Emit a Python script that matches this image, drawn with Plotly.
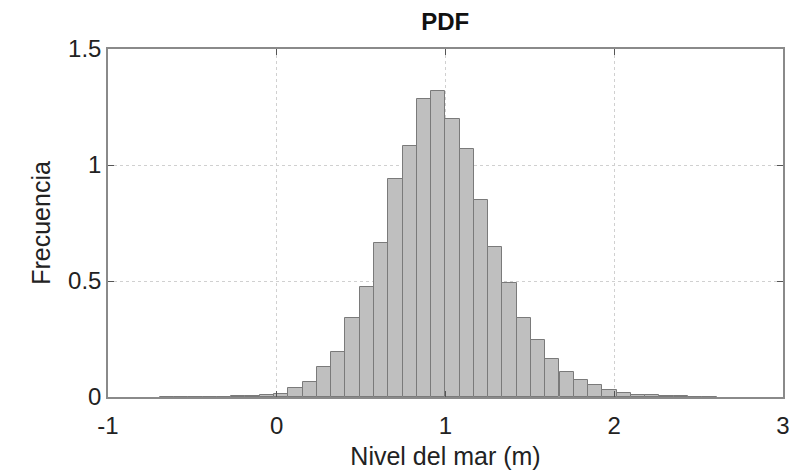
import plotly.graph_objects as go

# Histogram bin centres (m) and normalised frequency (PDF)
bin_centers = [
    -0.651, -0.566, -0.482, -0.397, -0.313, -0.228, -0.143, -0.059,
    0.026, 0.111, 0.195, 0.280, 0.365, 0.449, 0.534, 0.618, 0.703,
    0.788, 0.872, 0.957, 1.041, 1.126, 1.210, 1.295, 1.380, 1.464,
    1.549, 1.633, 1.718, 1.803, 1.887, 1.972, 2.056, 2.141, 2.225,
    2.310, 2.395, 2.479, 2.564,
]
pdf_values = [
    0.001, 0.001, 0.001, 0.002, 0.002, 0.003, 0.004, 0.007,
    0.014, 0.038, 0.065, 0.131, 0.195, 0.339, 0.475, 0.662, 0.938,
    1.082, 1.283, 1.320, 1.198, 1.068, 0.849, 0.648, 0.490, 0.339,
    0.246, 0.164, 0.109, 0.072, 0.050, 0.032, 0.018, 0.010, 0.007,
    0.005, 0.003, 0.002, 0.001,
]
bin_width = 0.0846

x_ticks = [-1, 0, 1, 2, 3]
x_tick_text = ["-1", "0", "1", "2", "3"]
y_ticks = [0, 0.5, 1, 1.5]
y_tick_text = ["0", "0.5", "1", "1.5"]

fig = go.Figure(
    go.Bar(
        x=bin_centers,
        y=pdf_values,
        width=bin_width,
        marker=dict(color="#bfbfbf", line=dict(color="#7a7a7a", width=1)),
        hoverinfo="x+y",
    )
)

family = "Liberation Sans, Arial, sans-serif"
tick_font = dict(family=family, size=24, color="#222")
label_font = dict(family=family, size=25, color="#222")

fig.update_layout(
    width=795,
    height=471,
    margin=dict(l=108, r=12, t=49, b=74),
    paper_bgcolor="white",
    plot_bgcolor="white",
    bargap=0,
    showlegend=False,
    title=dict(
        text="<b>PDF</b>",
        x=0.56,
        xanchor="center",
        y=0.955,
        yanchor="middle",
        font=dict(family=family, size=24, color="#111"),
    ),
    xaxis=dict(
        range=[-1, 3],
        tickvals=x_ticks,
        ticktext=x_tick_text,
        ticks="inside",
        ticklen=6,
        tickcolor="#555",
        ticklabelstandoff=6,
        automargin=False,
        showline=True,
        linecolor="#8a8a8a",
        linewidth=1.5,
        mirror="ticks",
        showgrid=True,
        gridcolor="#d0d0d0",
        griddash="dot",
        zeroline=False,
        tickfont=tick_font,
        title=dict(text="Nivel del mar (m)", font=label_font, standoff=10),
    ),
    yaxis=dict(
        range=[0, 1.5],
        tickvals=y_ticks,
        ticktext=y_tick_text,
        ticks="inside",
        ticklen=6,
        tickcolor="#555",
        automargin=False,
        showline=True,
        linecolor="#8a8a8a",
        linewidth=1.5,
        mirror="ticks",
        showgrid=True,
        gridcolor="#d0d0d0",
        griddash="dot",
        zeroline=False,
        tickfont=tick_font,
        title=dict(text="Frecuencia", font=label_font, standoff=10),
    ),
)

fig.write_html("out.html")
